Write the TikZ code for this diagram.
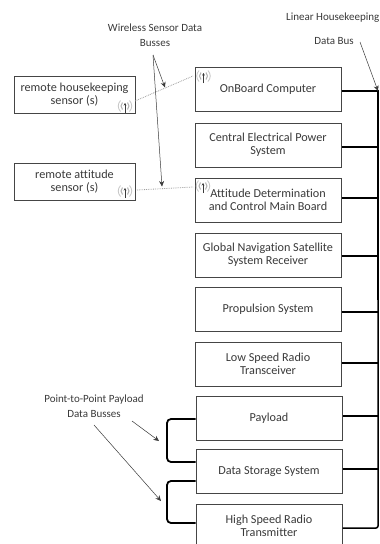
\documentclass[tikz,border=0pt]{standalone}
\usepackage{fontspec}
\setmainfont{Carlito}[Ligatures=NoCommon]
\usetikzlibrary{arrows.meta,calc}
\definecolor{ink}{HTML}{3A3A3A}
\definecolor{boxline}{HTML}{454545}
\tikzset{
  x=1pt,y=-1pt,
  unit/.style={draw=boxline,line width=1pt,fill=white,minimum width=146pt,minimum height=44pt,inner sep=0pt,align=center,text=ink,font=\fontsize{12.2}{13.4}\selectfont},
  sensor/.style={unit,minimum width=121pt,minimum height=37pt},
  label/.style={align=center,text=ink,inner sep=0pt,font=\fontsize{11}{15}\selectfont},
  bus/.style={line width=1.5pt,black},
  p2p/.style={line width=1.8pt,black,rounded corners=4pt},
  wireless/.style={densely dotted,line width=0.8pt,gray!75},
  callout/.style={line width=0.5pt,draw=ink,-{Stealth[length=5.5pt,width=5pt]}},
  antenna/.pic={
    \draw[line width=0.7pt,ink,-{Stealth[length=2.5pt,width=2.5pt]}] (0,7)--(0,-3);
    \draw[line width=1pt,gray!60] (-2.5,-3.5) .. controls (-4.5,-1.5) and (-4.5,1.5) .. (-2.5,3.5);
    \draw[line width=1pt,gray!60] (2.5,-3.5) .. controls (4.5,-1.5) and (4.5,1.5) .. (2.5,3.5);
    \draw[line width=0.8pt,gray!45] (-4.5,-5.5) .. controls (-7.5,-2) and (-7.5,2) .. (-4.5,5.5);
    \draw[line width=0.8pt,gray!45] (4.5,-5.5) .. controls (7.5,-2) and (7.5,2) .. (4.5,5.5);
  }
}
\begin{document}
\begin{tikzpicture}
\useasboundingbox (0,0) rectangle (380,544);
\clip (0,0) rectangle (380,544);
\fill[white] (0,0) rectangle (380,544);
% units
\node[unit] (obc) at (268,89.5) {OnBoard Computer};
\node[unit] (eps) at (268,145) {Central Electrical Power\\System};
\node[unit] (adcs) at (268,200) {Attitude Determination\\and Control Main Board};
\node[unit] (gnss) at (268,255) {Global Navigation Satellite\\System Receiver};
\node[unit] (prop) at (268,309) {Propulsion System};
\node[unit] (lsr) at (268,364) {Low Speed Radio\\Transceiver};
\node[unit] (pay) at (269,418.5) {Payload};
\node[unit] (dss) at (269,471.5) {Data Storage System};
\node[unit] (hsr) at (269,526) {High Speed Radio\\Transmitter};
\node[sensor] (rhk) at (74.5,94.5) {remote housekeeping\\sensor (s)};
\node[sensor] (rat) at (74.5,181.5) {remote attitude\\sensor (s)};
% labels
\node[label] (wl) at (155,35.5) {Wireless Sensor Data\\Busses};
\node[label,anchor=west] (lin) at (286,18) {Linear Housekeeping};
\node[label] (dbus) at (334,41) {Data Bus};
\node[label] (ptp) at (94,406.5) {Point-to-Point Payload\\Data Busses};
% housekeeping bus
\coordinate (busTop) at (378,91);
\coordinate (busEnd) at (378,528);
\coordinate (busMid) at (378,300);
\coordinate (obcOut) at ($(obc.east)+(0,1.5)$);
\draw[bus] (obcOut) -- (busTop) -- (busMid);
\draw[bus,rounded corners=2pt] (busMid) -- (busEnd) -- ($(hsr.east)+(0,2)$);
\foreach \n/\dy in {eps/2,adcs/-2,gnss/1,prop/3,lsr/-1,pay/-2.5,dss/-2.5}
  \draw[bus] ($(\n.east)+(0,\dy)$) -- (busTop |- {$(\n.east)+(0,\dy)$});
% point-to-point buses
\coordinate (p1) at (167,419);
\coordinate (p2) at (167,462);
\coordinate (p3) at (167,481);
\coordinate (p4) at (167,523);
\draw[p2p] (pay.west |- p1) -- (p1) -- (p2) -- (dss.west |- p2);
\draw[p2p] (dss.west |- p3) -- (p3) -- (p4) -- (hsr.west |- p4);
% antennas
\pic at (125,106) {antenna};
\pic at (125,191) {antenna};
\pic at (203.5,76) {antenna};
\pic at (203,186) {antenna};
\coordinate (a1) at (135,101);
\coordinate (b1) at (193,76);
\coordinate (a2) at (137,190);
\coordinate (b2) at (193,187);
\draw[wireless] (a1) -- (b1);
\draw[wireless] (a2) -- (b2);
% callouts
\coordinate (wlFoot) at (153,55);
\coordinate (t1) at (165,87.5);
\coordinate (t2) at (162,186.5);
\draw[callout] (wlFoot) -- (t1);
\draw[callout] (wlFoot) -- (t2);
\coordinate (dbFoot) at (360,42);
\draw[callout] (dbFoot) -- (busTop);
\coordinate (pa) at (132,421);
\coordinate (pb) at (159,441);
\coordinate (pc) at (94,425);
\coordinate (pd) at (161,501);
\draw[callout] (pa) -- (pb);
\draw[callout] (pc) -- (pd);
\end{tikzpicture}
\end{document}
